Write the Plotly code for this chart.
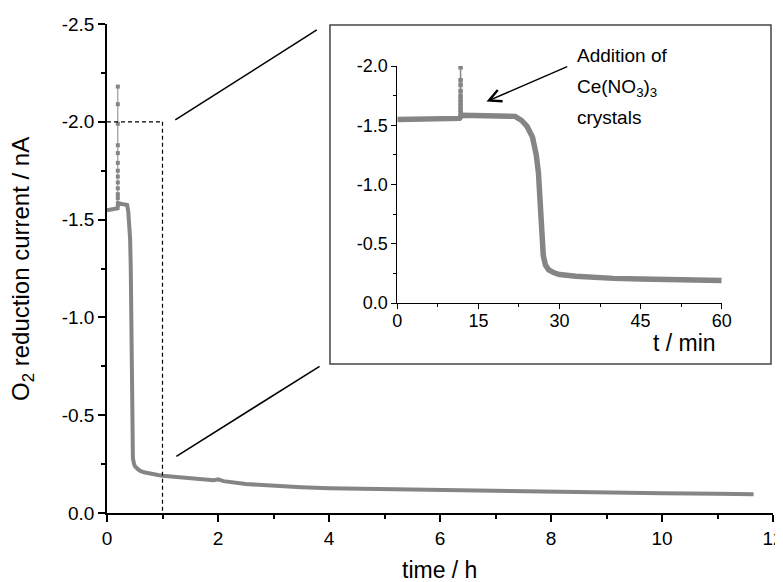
import plotly.graph_objects as go

# ---- data ----
# first hour, in minutes
t_min_first = [0, 3, 6, 9, 11.5, 12, 14, 16, 18, 20, 21.8, 23, 24, 25, 25.7, 26.1, 26.4,
               26.6, 26.8, 27.0, 27.4, 28, 29, 30, 33, 36, 40, 45, 50, 55, 60]
i_first = [-1.548, -1.550, -1.553, -1.556, -1.558, -1.585, -1.585, -1.580, -1.578, -1.578,
           -1.575, -1.54, -1.49, -1.40, -1.25, -1.10, -0.90, -0.70, -0.50, -0.40, -0.32,
           -0.28, -0.255, -0.24, -0.225, -0.215, -0.208, -0.202, -0.198, -0.194, -0.190]
# remainder, in hours
t_h_tail = [1.5, 1.92, 2.0, 2.1, 2.5, 3.0, 3.5, 4.0, 5.0, 6.0, 7.0, 8.0, 9.0, 10.0, 11.0, 11.65]
i_tail = [-0.180, -0.167, -0.172, -0.163, -0.148, -0.138, -0.132, -0.127, -0.122, -0.117,
          -0.112, -0.108, -0.105, -0.101, -0.098, -0.096]
# spike on addition of Ce(NO3)3
spike_t_min = 11.7
spike_vals = [-1.58, -1.61, -1.63, -1.66, -1.69, -1.72, -1.75, -1.79, -1.84, -1.88, -1.99, -2.09, -2.18]

main_xticks = [0, 2, 4, 6, 8, 10, 12]
main_yticks = [0.0, -0.5, -1.0, -1.5, -2.0, -2.5]
main_ytext = ["0.0", "-0.5", "-1.0", "-1.5", "-2.0", "-2.5"]
inset_xticks = [0, 15, 30, 45, 60]
inset_yticks = [0.0, -0.5, -1.0, -1.5, -2.0]
inset_ytext = ["0.0", "-0.5", "-1.0", "-1.5", "-2.0"]

GRAY = "#858585"
FONT = "Liberation Sans, Arial, Helvetica, sans-serif"

main_x = [m / 60 for m in t_min_first] + t_h_tail
main_y = i_first + i_tail

fig = go.Figure()
fig.add_trace(go.Scatter(x=main_x, y=main_y, mode="lines",
                         line=dict(color=GRAY, width=4), xaxis="x", yaxis="y",
                         showlegend=False))
fig.add_trace(go.Scatter(x=[spike_t_min / 60] * len(spike_vals), y=spike_vals,
                         mode="lines+markers", line=dict(color=GRAY, width=1),
                         marker=dict(color=GRAY, size=4, symbol="square"),
                         xaxis="x", yaxis="y", showlegend=False))
# inset
fig.add_trace(go.Scatter(x=t_min_first, y=i_first, mode="lines",
                         line=dict(color=GRAY, width=5.5), xaxis="x2", yaxis="y2",
                         showlegend=False))
fig.add_trace(go.Scatter(x=[spike_t_min] * len(spike_vals), y=spike_vals,
                         mode="lines+markers", line=dict(color=GRAY, width=1.5),
                         marker=dict(color=GRAY, size=4.5, symbol="square"),
                         xaxis="x2", yaxis="y2", showlegend=False, cliponaxis=True))

axis_common = dict(showgrid=False, zeroline=False, showline=True, linecolor="black",
                   ticks="outside", tickcolor="black", mirror=False, automargin=False)

# the page body has an 8px default margin, so the figure is 8px smaller than the window
fig.update_layout(
    width=775, height=574,
    margin=dict(l=99, r=10, t=16, b=69, autoexpand=False),
    paper_bgcolor="white", plot_bgcolor="white",
    font=dict(family=FONT, color="black"),
    xaxis=dict(**axis_common, range=[0, 12], tickvals=main_xticks, ticklen=7,
               tickwidth=1.5, linewidth=1.5, tickfont=dict(size=19),
               ticklabeloverflow="allow",
               minor=dict(dtick=1, ticklen=4, tickwidth=1.5, ticks="outside",
                          tickcolor="black"),
               domain=[0, 1]),
    yaxis=dict(**axis_common, range=[0, -2.5], tickvals=main_yticks, ticktext=main_ytext,
               ticklen=7, tickwidth=1.5, linewidth=1.5, tickfont=dict(size=19),
               minor=dict(dtick=0.25, ticklen=4, tickwidth=1.5, ticks="outside",
                          tickcolor="black"),
               domain=[0, 1]),
    xaxis2=dict(**axis_common, range=[0, 60], tickvals=inset_xticks, ticklen=5,
                tickwidth=1, linewidth=1, tickfont=dict(size=18), anchor="y2",
                ticklabelstandoff=-4,
                minor=dict(dtick=7.5, ticklen=3, tickwidth=1, ticks="outside",
                           tickcolor="black"),
                domain=[0.4359, 0.9230]),
    yaxis2=dict(**axis_common, range=[0, -2.0], tickvals=inset_yticks, ticktext=inset_ytext,
                ticklen=5, tickwidth=1, linewidth=1, tickfont=dict(size=18), anchor="x2",
                minor=dict(dtick=0.25, ticklen=3, tickwidth=1, ticks="outside",
                           tickcolor="black"),
                domain=[0.4294, 0.9141]),
)

# shapes: dashed zoom region, connector lines, inset frame
fig.add_shape(type="line", xref="x", yref="y", x0=0, y0=-2.0, x1=1, y1=-2.0,
              line=dict(color="black", width=1.2, dash="4px,3px"))
fig.add_shape(type="line", xref="x", yref="y", x0=1, y0=-2.0, x1=1, y1=0,
              line=dict(color="black", width=1.2, dash="4px,3px"))
fig.add_shape(type="line", xref="x", yref="y", x0=1.23, y0=-2.01, x1=3.78, y1=-2.47,
              line=dict(color="black", width=1.5))
fig.add_shape(type="line", xref="x", yref="y", x0=1.25, y0=-0.29, x1=3.83, y1=-0.75,
              line=dict(color="black", width=1.5))
fig.add_shape(type="rect", xref="paper", yref="paper", x0=0.3348, y0=0.3047,
              x1=0.997, y1=0.998, line=dict(color="#444444", width=1.5),
              fillcolor="rgba(0,0,0,0)")

# main axis titles
fig.add_annotation(text="time / h", xref="paper", yref="paper", x=0.4997, y=-0.116,
                   showarrow=False, font=dict(size=23), xanchor="center", yanchor="middle")
fig.add_annotation(text="O<sub>2</sub> reduction current / nA", xref="paper", yref="paper",
                   x=-0.127, y=0.5, textangle=-90, showarrow=False, font=dict(size=24),
                   xanchor="center", yanchor="middle")
# inset x title
fig.add_annotation(text="t / min", xref="paper", yref="paper", x=0.918, y=0.3476,
                   showarrow=False, font=dict(size=23), xanchor="right", yanchor="middle")

# inset annotation text + arrow
for txt, yy in [("Addition of", 0.9346), ("Ce(NO<sub>3</sub>)<sub>3</sub>", 0.8691),
                ("crystals", 0.8078)]:
    fig.add_annotation(text=txt, xref="paper", yref="paper", x=0.703, y=yy,
                       showarrow=False, font=dict(size=19), xanchor="left",
                       yanchor="middle", align="left")
fig.add_annotation(text="", xref="x2", yref="y2", x=16.5, y=-1.70,
                   axref="x2", ayref="y2", ax=31.7, ay=-2.0, showarrow=True,
                   arrowhead=5, arrowsize=1.6, arrowwidth=1.5, arrowcolor="black")

fig.write_html("out.html")
